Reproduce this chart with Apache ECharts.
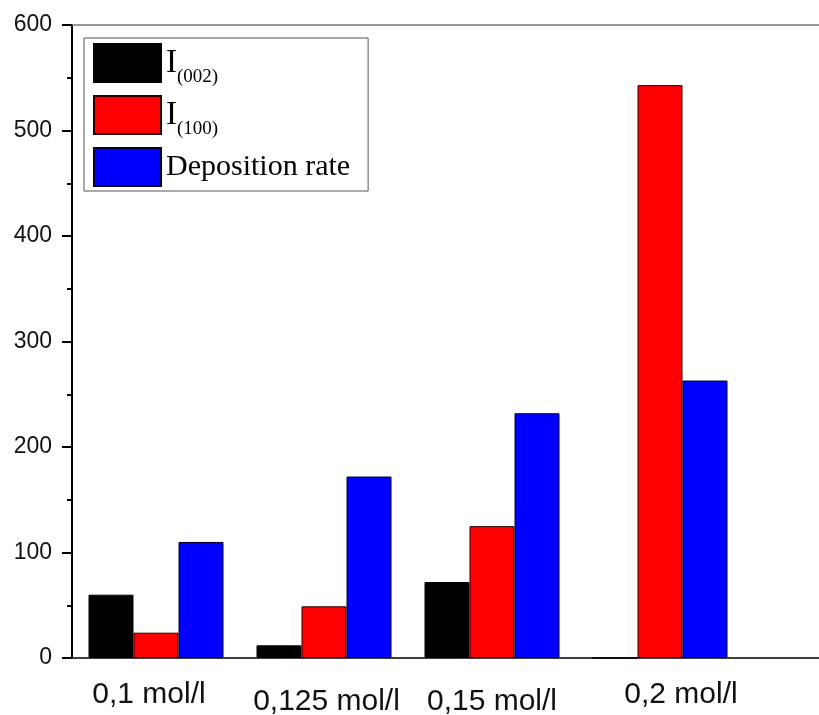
<!DOCTYPE html>
<html>
<head>
<meta charset="utf-8">
<script src="https://cdn.jsdelivr.net/npm/echarts@6/dist/echarts.min.js"></script>
<style>
html,body{margin:0;padding:0;background:#fff;}
#chart{width:819px;height:715px;}
</style>
</head>
<body>
<div id="chart"></div>
<script>
// ---- data ----
const categories = ['0,1 mol/l', '0,125 mol/l', '0,15 mol/l', '0,2 mol/l'];
const seriesNames = ['I(002)', 'I(100)', 'Deposition rate'];
const i002 = [60, 12, 72, 0];
const i100 = [24, 49, 125, 543];
const depositionRate = [110, 172, 232, 263];
const yTicks = [0, 100, 200, 300, 400, 500, 600];

// ---- presentation (label nudges to mimic the original placement) ----
const labelPaddings = [[0, 14, 0, 0], [7, 0, 0, 5], [7, 0, 0, 0], [0, 0, 0, 42]];

const chart = echarts.init(document.getElementById('chart'), null, {renderer: 'canvas'});

const barColors = ['#000000', '#ff0000', '#0000ff'];
const borderColors = ['#000000', '#2a0000', '#000022'];
const values = [i002, i100, depositionRate];

const series = seriesNames.map((name, i) => ({
  name: name,
  type: 'bar',
  xAxisIndex: 0,
  yAxisIndex: 0,
  barWidth: 45,
  barGap: '0%',
  data: values[i],
  itemStyle: {color: barColors[i], borderColor: borderColors[i], borderWidth: 1},
  emphasis: {disabled: true}
}));

const legendFormatter = function (name) {
  if (name === 'I(002)') return '{a|I}{s|(002)}';
  if (name === 'I(100)') return '{a|I}{s|(100)}';
  return '{d|' + name + '}';
};

chart.setOption({
  animation: false,
  backgroundColor: '#ffffff',
  grid: [
    {left: 72, top: 25, width: 672, bottom: 57, containLabel: false, outerBoundsMode: 'none'},
    {left: 72, top: 25, right: -5, bottom: 57, containLabel: false, outerBoundsMode: 'none'}
  ],
  legend: {
    left: 84,
    top: 38,
    orient: 'vertical',
    itemWidth: 67,
    itemHeight: 38,
    itemGap: 8,
    padding: [5, 18, 4, 9],
    borderColor: '#555555',
    borderWidth: 1,
    borderRadius: 0,
    icon: 'rect',
    selectedMode: false,
    formatter: legendFormatter,
    textStyle: {
      fontFamily: 'Liberation Serif',
      color: '#000',
      rich: {
        a: {fontFamily: 'Liberation Serif', fontSize: 33, lineHeight: 48, color: '#000', verticalAlign: 'middle'},
        s: {fontFamily: 'Liberation Serif', fontSize: 19, lineHeight: 17, color: '#000', verticalAlign: 'bottom'},
        d: {fontFamily: 'Liberation Serif', fontSize: 30, lineHeight: 48, color: '#000'}
      }
    },
    data: seriesNames
  },
  xAxis: [
    {
      type: 'category',
      gridIndex: 0,
      data: categories.map((c, i) => ({value: c, textStyle: {padding: labelPaddings[i]}})),
      axisLine: {show: false},
      axisTick: {show: false},
      axisLabel: {
        margin: 22,
        interval: 0,
        fontFamily: 'Liberation Sans',
        fontSize: 30,
        color: '#111'
      },
      splitLine: {show: false}
    },
    {
      type: 'value',
      gridIndex: 1,
      position: 'bottom',
      min: 0, max: 1,
      axisLine: {show: true, onZero: false, lineStyle: {color: '#000', width: 1.5}},
      axisTick: {show: false},
      axisLabel: {show: false},
      splitLine: {show: false}
    },
    {
      type: 'value',
      gridIndex: 1,
      position: 'top',
      min: 0, max: 1,
      axisLine: {show: true, onZero: false, lineStyle: {color: '#777', width: 1.5}},
      axisTick: {show: false},
      axisLabel: {show: false},
      splitLine: {show: false}
    }
  ],
  yAxis: [
    {
      type: 'value',
      gridIndex: 0,
      min: yTicks[0],
      max: yTicks[yTicks.length - 1],
      interval: 100,
      axisLine: {show: true, lineStyle: {color: '#000', width: 2}},
      axisTick: {show: true, length: 10, lineStyle: {color: '#000', width: 2}},
      minorTick: {show: true, splitNumber: 2, length: 5, lineStyle: {color: '#000', width: 2}},
      axisLabel: {
        margin: 20,
        fontFamily: 'Liberation Sans',
        fontSize: 23,
        color: '#111'
      },
      splitLine: {show: false}
    },
    {
      type: 'value',
      gridIndex: 1,
      show: false,
      min: 0, max: 1
    }
  ],
  series: series
});
</script>
</body>
</html>
